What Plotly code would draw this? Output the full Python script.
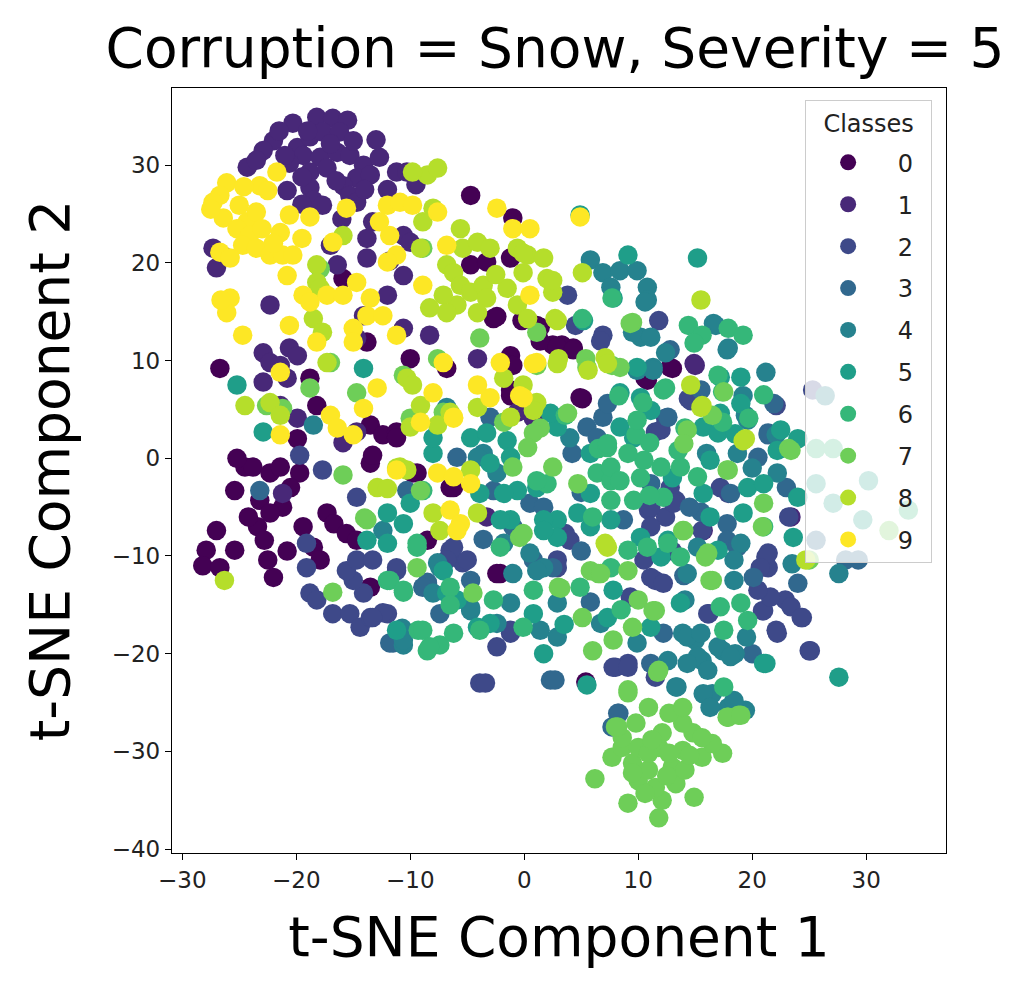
import plotly.graph_objects as go

# class colours (viridis, 10 steps)
class_colors = ["#440154", "#482878", "#3e4989", "#31688e", "#26828e",
                "#1f9e89", "#35b779", "#6ece58", "#b5de2b", "#fde725"]
class_names = ["0", "1", "2", "3", "4", "5", "6", "7", "8", "9"]

# t-SNE points, one (x, y) list per class
class_0 = [(-27, -7.4), (-27.9, -9.4), (-28.2, -11), (-26.7, -11.2), (-25.4, -9.4), (-25.4, -3.3),
           (-24.5, -0.9), (-23.8, -0.9), (-23.2, -4.3), (-23.4, -7), (-22.8, -8.4), (-22.5, -10.4),
           (-22, -12.2), (-22.3, -1.5), (-21.4, -0.9), (-21.2, -5), (-22.3, -5.6), (-19.7, -1.5),
           (-19.4, -7), (-18.5, -9.1), (-17.9, -10.4), (-17.3, -5.6), (-16.7, -6.7), (-15.6, -7.7),
           (-14.7, -8.4), (-13.5, -0.5), (-9.8, -1.5), (-8.5, -8.4), (-6.5, -3), (-2.1, -11.8),
           (-13.5, -13.2), (-4.7, 26.9), (-1, 24.6), (-4.7, 19.8), (-3.3, 20.1), (-1.2, 20.5),
           (-2.7, 14.3), (1.1, 13.6), (-1.2, 10.5), (-1, 9.5), (-1.2, 6.4), (2.5, 11.6),
           (-15.9, 18.4), (-13.8, 11.9), (-26.7, 9.2), (-18.8, 8.2), (-18.2, 5.4), (-13.5, 3.4),
           (-12.4, 2.4), (-11.2, 2.7), (-19.9, 2), (-13.3, 0.3), (-25.2, 0), (-10, 10.2),
           (-6.8, 9.2), (-2.4, 14.5), (-0.2, 14.1), (1.4, 12), (4.3, 11.3), (3.3, 11.6),
           (13, 9.2), (10.6, 8.2), (5.1, 6.1), (5.4, -22.9), (4.9, 6.2), (-11.2, 2.1),
           (-9.4, -1.5), (-6.2, -3), (-2.4, -11.8), (10.8, 8), (12.8, 9.3), (2.9, 11.4),
           (1.4, 13.4), (4.3, 11.1), (-1.2, 7), (-20.5, -3), (-24.2, -6), (-20.8, -9.5)]

class_1 = [(-20.3, 34.3), (-18.2, 34.9), (-16.8, 34.8), (-15.5, 34.6), (-22, 32.5), (-22.9, 31.5),
           (-24.3, 29.8), (-19.9, 31.8), (-18.8, 32.9), (-17.7, 33.4), (-16.2, 33.4), (-19.4, 31),
           (-17.9, 30.8), (-16.4, 31.3), (-15.3, 31), (-14.1, 30), (-12.7, 30.8), (-11.2, 29.3),
           (-10.3, 29.3), (-20.6, 30.2), (-18.8, 29.3), (-17.3, 29.7), (-14.7, 28.7), (-13.5, 29),
           (-20.8, 27.4), (-18.8, 27.7), (-15.9, 27.9), (-15.3, 26.9), (-18.5, 26.4), (-17.7, 25.9),
           (-14.7, 26.2), (-13.3, 24.2), (-13.8, 22.5), (-13.8, 20.5), (-10.6, 22.8), (-10, 22.1),
           (-17, 21.8), (-16.4, 19.8), (-10.6, 18.7), (-12, 16.7), (-27.3, 21.5), (-27, 19.5),
           (-22.3, 15.7), (-22.9, 10.8), (-22.3, 9.8), (-20.6, 11.3), (-19.9, 10.5), (-21.4, 9.5),
           (-20.8, 8.2), (-14.1, 14.6), (-14.7, 12.3), (-8.3, 12.6), (-10.6, 13.3), (-4.1, 10.2),
           (-22.9, 7.8), (-21.4, 5.4), (-19.9, 4.1), (-15.9, 1.6), (-14.7, 2.7), (-0.6, 4.7),
           (0.8, 4.1), (-21.2, -3.6), (15, 9.5), (14.9, 9.7), (-3.3, -6), (15.7, -7.4),
           (23.4, -6), (-19, 33.5), (-17, 32.2), (-15, 32.5), (-21, 31), (-19.5, 28.8),
           (-12, 27.5), (-13, 32.6), (-16.5, 28.4), (-23.5, 30.5), (-21.5, 33.5), (-14, 27.5),
           (-16, 24.5), (-19.5, 26), (-9.5, 28), (-11.8, 20.2), (-26.5, 20.8)]

class_2 = [(-18.8, -13.8), (-18.2, -14.5), (-16.8, -15.9), (-15.3, -15.9), (-14.4, -17.3), (-13.5, -16.3),
           (-12, -15.9), (-14.1, -13.8), (-15, -12.5), (-15.6, -11.5), (-14.7, -10.4), (-13.3, -10.4),
           (-11.2, -11.5), (-14.7, -4), (-19.1, -8.7), (-19.1, -11.2), (-17.7, -1.2), (-6.5, -9.4),
           (-5.4, -10.7), (-2.4, -19.3), (-3.9, -23), (-3.4, -23), (-1.2, -17.9), (8, -21.4),
           (9.1, -21), (11.5, -22.4), (21.2, -10.1), (21.4, -11.2), (20.9, -15.6), (22.1, -17.6),
           (22.9, -14.5), (24.4, -16.3), (25, -19.7), (11.5, -12.5), (10.9, -5.3), (12.4, -6),
           (15.6, -7.4), (16.2, -15.9), (23.2, -6), (3.6, -7.7), (13.3, -4.3), (17.9, -3.6),
           (3.8, 16.7), (4.5, 13.6), (6.9, 12.6), (11.8, 14.1), (11.5, 2.7), (12.4, 4.1),
           (14.4, 6.1), (22.1, 5.4), (-6.2, -9.1), (-5, -10.4), (-6.8, -10.4), (-11.2, -11.2),
           (4, -8.4), (2.9, -10.4), (12, 2.9), (14.6, 5.9), (12.8, -3), (17.2, -3),
           (13.1, -4.6), (11.1, -5), (11.1, -7), (21.4, -9.7), (10.5, -10.4), (20.7, -11.2),
           (11.1, -12.2), (12.2, -12.8), (9.3, -14.2), (16.1, -15.9), (21, -15.6), (21.6, -14.2),
           (23.4, -15.2), (24.3, -16.3), (22.2, -17.9), (25.1, -19.7), (7.8, -21.4), (9.1, -21.4),
           (-12.4, -15.8), (-13.3, -16.3), (-1.2, -17.6), (2.9, -11.2), (-19.7, 0.3), (25.3, 7),
           (6.7, 12), (-8.5, -12.8), (20.5, -13.5), (13, -9.5)]

class_3 = [(-5.9, 0.1), (0.5, -4.6), (1.7, -5), (6.9, 4.2), (-3, 4.2), (-10.3, -3.3),
           (5.5, 3.2), (6.4, 2.1), (7.3, 5.6), (12.6, 4.2), (21.9, 5.6), (21.4, 2.6),
           (20.5, 0.1), (11.1, -2.6), (18.1, -3.6), (17.8, -6.7), (8.7, -6.3), (17.8, -8.4),
           (18.7, -9.1), (20.1, -12.2), (24, -12.8), (12.2, -17.9), (11.1, -21), (8.2, -26.1),
           (-11.5, -18.9), (-8.5, -12.7), (-7.4, -15.9), (-4.7, -12.5), (2.3, -22.7), (5.8, -14.7),
           (-23.2, -3.3), (-11.8, -18.9), (-8.9, -13.2), (0.8, -10.4), (2.5, -11.2), (2.7, -22.7),
           (8.3, -26.1), (7.7, -27.5), (12.8, 11.1), (21.4, 2.4), (25.6, -8.4), (28.2, -10.4),
           (29.3, -10.4), (-2.7, -3.3), (15.5, 7), (14, -12), (20, -20), (5, -3.5), (-1, -7),
           (15.5, -5.5), (4.2, 0.5), (-3.6, -8.3), (23, -3), (14.5, -5), (5, -9.5)]

class_4 = [(5.8, 20.3), (6.9, 19), (8.4, 19.2), (9.9, 19.2), (7.6, 17.5), (10.8, 17.5),
           (10.8, 16.2), (10.2, 12.4), (11.1, 12.4), (16.6, 13.8), (17.8, 11.1), (11.3, 9.3),
           (10.6, 16), (16.8, 13.6), (17.9, 11.3), (21.2, 8.8), (9.5, 12.9), (12.4, 10.8),
           (19.2, 6.4), (19.4, 4.4), (22.1, 2.4), (15.6, -20.7), (16.5, -24.1), (19.4, -25.8),
           (17.9, -25.5), (13.3, -23.4), (15, -18.6), (17.4, -19.7), (18.5, -20), (14.1, -14.5),
           (13.9, -17.9), (27.6, -11.8), (-3.6, 0.5), (-2.4, -1.5), (4, 2.1), (-6.8, 5.2),
           (0.5, -9.7), (1.7, -11.2), (-1, -11.8), (-4.1, 0.1), (9.9, 9), (11.3, 9),
           (19.6, 3.9), (18.7, 0.5), (22.2, -1.5), (19, -8.7), (15.2, -9.1), (18.4, -10.4),
           (14.3, -11.8), (18.4, -12.5), (9.9, -18.9), (14.3, -18.3), (15.5, -17.9), (17, -19.3),
           (18.1, -20.3), (15.2, -20.3), (14.3, -21), (16.1, -21.7), (12.6, -20.7), (13.4, -23.4),
           (15.7, -24.1), (18.4, -24.8), (16.3, -25.5), (-10.7, -17.4), (-10.6, -19.1), (-8, -13.8),
           (-7.4, -11.2), (-4.7, -15.6), (-1.2, -14.8), (-2.4, -16.9), (1.4, -17.6), (2.9, -18.3),
           (1.1, -11.5), (2.9, -14.8), (6.7, -16.9), (-12.4, -7.4), (-10.6, -18.6), (-7.6, -10.7),
           (-4.7, -15.3), (-1.8, -8.7), (-18.5, 3.4), (26.4, 6.4), (20, -1), (16, 0.5),
           (23.5, -10.8), (19.5, -18.3)]

class_5 = [(4.9, 24.9), (9.1, 20.8), (15.2, 20.5), (5.2, 14.1), (19, 8.3), (9.9, 9.3), (7.8, 16.4),
           (-8, 0.5), (-4.7, 2.1), (-3.3, 2.6), (-1.5, 1.8), (-1.2, 0.1), (-0.6, -3.3),
           (2.9, -6.3), (4.7, -5.6), (5.8, -3.6), (5.8, 0.5), (2.9, 3.2), (2.3, 4.6),
           (-8, 2.1), (-10, -4.6), (-1.2, -6.3), (1.7, -6.3), (2.9, -8.1), (5.8, -7),
           (7.6, -6.3), (17.2, 8.3), (8.4, 6.7), (10.2, 6.2), (11.1, 4.9), (8.4, 3.2),
           (15.7, 3.2), (17.2, 4.6), (17, 2.6), (19, 5.6), (22.5, 2.9), (22.2, 0.8),
           (16.3, -0.2), (9.6, 2.1), (15.7, -3.6), (19.6, -3), (21, -2.6), (24, -4),
           (19.2, -5.6), (16.3, -6), (12.6, -8.4), (10.2, -8.1), (23.6, -8.1), (17, -9.4),
           (12, -10.1), (7.8, -13.5), (13.7, -14.8), (7.3, -16.3), (11.1, -17.3), (21, -21),
           (1.7, -20), (5.5, -23.2), (-13.8, -8.4), (-12, -5.6), (-10.6, -6.7), (-12, -8.7),
           (-2.1, -6.3), (-1.8, -3.6), (-3.9, -3.6), (-3, -0.5), (1.1, -3), (1.7, -7.4),
           (0.8, -15.9), (-7.1, -11.5), (-6.8, -13.8), (-5.9, -14.5), (-4.1, -17.3), (-3, -16.9),
           (-11.2, -17.6), (-25.2, 7.5), (-14.1, 9.2), (-22.9, 2.7), (27.6, -22.4), (21.2, -21),
           (25.6, -2.6), (27.1, -4.6), (30.2, -2.3), (29.7, -6.3), (18.5, 2.5), (24, 2),
           (13, -2), (3.5, -17)]

class_6 = [(14.4, 13.6), (15.6, 12.6), (17.9, 13.3), (19.2, 12.6), (17, 8.5), (17.4, 6.8),
           (7.7, 16.4), (5.1, 14.3), (12.4, 7.2), (8.3, 6.4), (10.4, 5.7), (14.1, 3.1),
           (9.8, 2.4), (3.6, 4.4), (6.5, 1), (17.4, 3.7), (19.7, 4.1), (14.9, 11.8),
           (2, -2.6), (1.1, -2.3), (6.4, -1.5), (7.3, 1.1), (7.6, -2.3), (-8.9, -3.3),
           (-9.4, -8.7), (-2.1, -9.1), (12.2, 7), (9.9, 3.9), (13.7, -0.9), (12, -0.9),
           (10.5, -0.2), (9.1, 0.5), (7.3, 1.5), (7.6, -0.9), (8.4, -2.3), (15.2, -1.9),
           (12.2, -4), (9.6, -4.3), (7.6, -4.3), (21, -7), (9.1, -9.4), (10.8, -9.1),
           (12.6, -8.7), (13.7, -10.1), (7.6, -11.2), (17.2, -15.2), (19, -14.8), (19.6, -16.6),
           (17.5, -17.6), (17.5, -23.4), (-12, -12.5), (-10.6, -13.7), (-9.3, -17.6), (-8.5, -19.7),
           (-7.4, -19.1), (-6.2, -17.9), (-6.5, -13.2), (-6.5, -15), (-3.9, -17.6), (-2.7, -14.5),
           (-0.1, -17.3), (0.8, -13.5), (4.9, -13.2), (-9.4, -9.1), (-11.8, -12.5), (-10.6, -13.5),
           (-8.9, -17.6), (-8.3, -19.3), (25.6, 1), (27.1, 1), (33.7, -5.3), (11, 1.6),
           (13.5, 0.8), (10.2, -2), (21, 6.5), (11, -3.8), (6, -6), (8.5, -15.5)]

class_7 = [(6.2, -32.8), (9.1, -35.3), (11.8, -36.8), (12.1, -35), (14.9, -34.7), (7.7, -30.6),
           (9.5, -31.2), (10, -33), (10.9, -31.9), (11.5, -33.7), (13.3, -33.3), (13, -31.6),
           (14.1, -31.9), (15.6, -30.6), (17.4, -30.2), (16.5, -29.2), (14.8, -28.1), (13.9, -27.1),
           (12.7, -26.1), (10.9, -25.5), (9.8, -27.1), (8.6, -29.6), (10, -29.6), (11.8, -29.6),
           (12.1, -28.1), (13.9, -29.9), (8.6, -28.6), (8, -27.5), (15.6, -28.6), (9.5, -32.2),
           (10.9, -30.2), (12.7, -30.2), (13.9, -25.5), (17.9, -26.5), (18.8, -26.3), (9.1, -23.7),
           (10.6, -34.3), (11.2, -28.8), (14.5, -30.4), (12.5, -32.5), (6, -19.7), (7.8, -18.6),
           (11.8, -21.7), (9.5, -17.3), (5.1, -16.3), (10, -14.5), (11.5, -15.6), (6.5, -11.8),
           (9.1, -11.5), (16.5, -12.5), (15.9, -10.1), (13.9, -7.4), (17.9, -1.2), (20.9, -7),
           (4.7, -2.6), (3, -13.2), (-15.9, -1.7), (-14, -6.1), (-9.4, -11.2), (-16.8, -13.7),
           (-4.5, -13.8), (-9.1, -3.3), (-0.4, -8.1), (-17.9, 19.4), (-8.9, 21.5), (-3.9, 12.3),
           (-7.6, 10.2), (-10.6, 8.5), (-22.6, 5.4), (-21.2, 5.1), (-17, 9.8), (-18.8, 7.2),
           (1.1, 9.5), (1.1, 12.9), (-1.8, 3.7), (1.4, 3.1), (-7.1, 4.7), (-10, 4.1),
           (9.5, 13.9), (7.7, 9.5), (5.4, 10.2), (16.5, 4.4), (23.2, 1), (0.8, 2.6),
           (0.3, 1.1), (-1, -0.9), (2.5, -0.9), (3.8, 4.6), (-0.1, -7.7), (5.8, -11.5),
           (8.4, 9.3), (14.3, 2.9), (14, 1.5), (17.5, 6.8), (23.4, 0.8), (17.8, -1.2),
           (21, -4.6), (14, -7.4), (16.1, -9.7), (16.3, -12.5), (11.3, -15.6), (11.7, -21.9),
           (9.1, -24), (17.8, -26.5), (19, -26.3), (8.2, -27.5), (3.2, -13.3), (6.7, -11.8),
           (9.3, 13.8), (5.5, 9.3), (25, -10.4), (32, -7.4), (-13.8, -6.3), (-14.7, 6.7)]

class_8 = [(5.1, 19), (15.5, 16.2), (2.7, 14.3), (7.1, 10.3), (5.6, 9), (3, 10.2),
           (14.6, 7.5), (15.6, 5.4), (19.4, 2), (7.1, -8.7), (24.7, -10.4), (-8.5, 29),
           (-7.6, 29.7), (-8, 25.6), (-8.9, 24.2), (-15.9, 22.8), (-9.1, 21.5), (-5.6, 23.5),
           (-6.8, 19.8), (-5.4, 21.5), (-4.1, 22.1), (-3, 21.5), (-6.2, 19), (-5.6, 17.7),
           (-4.7, 17), (-3.6, 17.7), (-3.3, 16.4), (-4.1, 14.9), (-5.9, 15.7), (-7.1, 16.7),
           (-8.3, 15.4), (-6.8, 14.9), (-1.5, 17.4), (-0.6, 21.5), (0.3, 20.8), (1.7, 20.5),
           (-0.1, 19), (2, 18.4), (-0.6, 15.7), (0.3, 14.3), (2.5, 17), (-0.1, 7.5),
           (1.1, 5.7), (-1.8, 8.2), (-18.2, 19.8), (-18.2, 18), (-18.5, 14.3), (-17.7, 12.9),
           (-22.3, 5.7), (-21.4, 4.4), (-17.3, 9.8), (-10.3, 8.2), (-9.8, 7.5), (-9.1, 5.4),
           (-7.6, 3.4), (-6.5, 4.7), (-9.8, 29.3), (-17.9, 17.4), (-12.9, -3), (-12, -3.1),
           (-11.2, -1), (-10.3, -1.2), (-4.7, -1.2), (-4.1, -5.6), (-8, -5.6), (-7.4, -7.4),
           (-26.3, -12.5), (0.8, 4.9), (-1.2, 4.2), (-4.1, 5.2), (-10, 3.2), (-10.9, -0.9),
           (7.3, 9.7), (15.5, 5.2), (19.2, 1.8), (7.3, -9.1), (2.9, 14.1), (2.5, 18.2),
           (-0.1, 21), (2.9, 9.7), (-24.5, 5.4), (-2.5, 18.8)]

class_9 = [(-26.1, 28.2), (-26.7, 26.9), (-27.3, 26.2), (-26.4, 24.6), (-25, 25.9), (-24.3, 24.2),
           (-23.5, 25.2), (-23.2, 27.9), (-21.7, 29.3), (-25.2, 23.5), (-24.1, 22.8), (-24.7, 21.8),
           (-26.7, 21.1), (-23.5, 21.5), (-22.3, 20.8), (-21.2, 20.8), (-20.3, 20.8), (-21.4, 23.1),
           (-20.6, 24.9), (-18.8, 24.7), (-20.8, 18.7), (-25.8, 16.4), (-26.1, 14.9), (-24.7, 12.6),
           (-20.6, 13.6), (-19.4, 16.7), (-18.8, 16), (-17.3, 16.7), (-15.9, 16.7), (-14.7, 18),
           (-13.5, 16.4), (-13.8, 14.6), (-12.4, 14.6), (-15, 13.3), (-15, 11.9), (-11.2, 12.6),
           (-18.2, 11.9), (-15.6, 25.6), (-16.8, 22.1), (-12, 25.9), (-10.9, 26.2), (-9.8, 25.9),
           (-12.7, 24.2), (-11.8, 22.8), (-11.2, 20.8), (-12, 20.1), (-7.6, 25.2), (-8.9, 17.7),
           (-6.8, 21.8), (-2.4, 25.6), (-1, 23.5), (0.5, 23.5), (0.5, 16.7), (-2.1, 9.8),
           (-0.4, 6.4), (1.1, 9.8), (-7.1, 9.8), (-6.2, 4.1), (-9.1, 3.7), (-12.9, 7.2),
           (-17, 4.4), (-16.4, 3.1), (-15, 2.4), (-21.4, 2.4), (-21.4, 8.8), (-14.1, 5.1),
           (-11.2, -1.2), (-7.6, -1.5), (-6.2, -1.9), (-4.7, -2.6), (-6.5, -5.3), (-5.6, -6.7),
           (-5.9, -7.4), (-0.1, 6.2), (-3, 6.2), (-4.1, 7.5), (-6.2, 4.2), (-8, 6.7),
           (0.8, 9.7), (4.9, 24.7), (-22.5, 27.4), (-24.6, 27.8), (-27.5, 25.5), (-25.8, 20.5),
           (-23, 23.5), (-22, 22), (-19.5, 22.5), (-26.6, 16.2)]

class_points = [class_0, class_1, class_2, class_3, class_4,
                class_5, class_6, class_7, class_8, class_9]

fig = go.Figure()
for name, color, pts in zip(class_names, class_colors, class_points):
    fig.add_trace(go.Scatter(
        x=[p[0] for p in pts],
        y=[p[1] for p in pts],
        mode="markers",
        name="\u00a0" + name + "\u00a0\u2009",
        legendgroup=name,
        marker=dict(color=color, size=19.5, line=dict(width=0)),
    ))

axis_style = dict(
    showgrid=False, zeroline=False, showline=True, mirror=True,
    linecolor="black", linewidth=1.3, ticks="outside", ticklen=6,
    tickwidth=1.2, tickcolor="black",
    tickfont=dict(family="DejaVu Sans", size=23, color="#222"),
)

# the page body adds an 8px offset, so the figure is 8px smaller each way
fig.update_layout(
    width=1010, height=976,
    paper_bgcolor="white", plot_bgcolor="white",
    margin=dict(l=164, r=72, t=80, b=131),
    font=dict(family="DejaVu Sans", color="black"),
    title=dict(text="Corruption = Snow, Severity = 5", x=0.5416, xanchor="center",
               xref="container", y=0.9595, yanchor="middle", yref="container",
               font=dict(family="DejaVu Sans", size=55, color="black")),
    xaxis=dict(axis_style, range=[-30.9, 37.0], tickvals=[-30, -20, -10, 0, 10, 20, 30],
               ticktext=["\u221230", "\u221220", "\u221210", "0", "10", "20", "30"],
               title=dict(text="t-SNE Component 1", standoff=25,
                          font=dict(family="DejaVu Sans", size=55, color="black"))),
    yaxis=dict(axis_style, range=[-40.4, 37.9],
               tickvals=[-40, -30, -20, -10, 0, 10, 20, 30],
               ticktext=["\u221240", "\u221230", "\u221220", "\u221210", "0", "10", "20", "30"],
               title=dict(text="t-SNE Component 2", standoff=24,
                          font=dict(family="DejaVu Sans", size=55, color="black"))),
    legend=dict(
        x=0.818, y=0.984, xanchor="left", yanchor="top",
        bgcolor="rgba(255,255,255,0.8)", bordercolor="#cccccc", borderwidth=1,
        font=dict(family="DejaVu Sans", size=24, color="#222"),
        title=dict(text="<span style='font-size:24px;baseline-shift:8px'>Classes</span>",
                   side="top center",
                   font=dict(family="DejaVu Sans", size=30, color="#222")),
        tracegroupgap=7.7, itemwidth=74, itemsizing="trace",
    ),
)

fig.write_html("out.html")
